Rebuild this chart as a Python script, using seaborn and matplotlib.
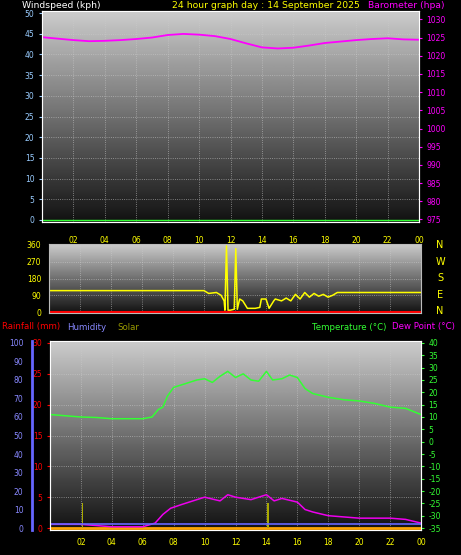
import numpy as np
import seaborn as sns
import matplotlib.pyplot as plt

sns.set_style("dark")
plt.rcParams['font.family'] = ['DejaVu Sans']
plt.rcParams['axes.unicode_minus'] = False

# barometer (hPa)
baro_h = [0, 1, 2, 3, 4, 5, 6, 7, 8, 9, 10, 11, 12, 13, 14, 15, 16, 17, 18, 19, 20, 21, 22, 23, 24]
baro_v = [1025.1, 1024.7, 1024.3, 1024.0, 1024.1, 1024.3, 1024.6, 1025.0, 1025.7, 1026.0, 1025.8, 1025.4,
          1024.6, 1023.4, 1022.3, 1022.0, 1022.2, 1022.8, 1023.5, 1023.9, 1024.3, 1024.6, 1024.8, 1024.5, 1024.4]

# wind direction (deg)
dir_h = [0, 10.0, 10.3, 10.8, 11.1, 11.3, 11.35, 11.45, 11.55, 11.7, 11.95, 12.05, 12.15, 12.3, 12.5,
         12.8, 13.3, 13.6, 13.7, 14.0, 14.2, 14.5, 14.6, 15.0, 15.3, 15.6, 15.9, 16.2, 16.5, 16.8, 17.1,
         17.4, 17.7, 18.0, 18.3, 18.6, 24]
dir_v = [115, 115, 100, 105, 90, 60, 10, 355, 10, 10, 15, 340, 15, 70, 60, 20, 20, 25, 70, 70, 20, 60,
         70, 60, 75, 60, 95, 70, 105, 80, 100, 85, 95, 80, 90, 105, 105]

# temperature and dew point (C)
temp_h = [0, 1, 2, 3, 4, 5, 6, 6.6, 7.0, 7.3, 7.6, 8.0, 8.5, 9.0, 9.5, 10.0, 10.5, 11.0, 11.5, 12.0,
          12.5, 13.0, 13.5, 14.0, 14.4, 15.0, 15.5, 16.0, 16.5, 17.0, 18.0, 19.0, 20.0, 21.0, 22.0, 23.0, 24.0]
temp_v = [11.0, 10.5, 10.0, 9.8, 9.3, 9.3, 9.3, 10.0, 13.0, 14.0, 18.5, 22.0, 23.0, 24.0, 25.0, 25.5,
          24.0, 26.5, 28.5, 26.0, 27.5, 25.0, 24.5, 28.5, 25.0, 25.5, 27.0, 26.0, 21.5, 19.5, 18.0, 17.0,
          16.5, 15.5, 14.0, 13.5, 11.0]
dew_h = [0, 2, 4, 6, 6.8, 7.3, 7.8, 8.5, 9.0, 10.0, 11.0, 11.5, 12.0, 13.0, 14.0, 14.5, 15.0, 16.0,
         16.5, 17.0, 18.0, 20.0, 22.0, 23.0, 24.0]
dew_v = [-33.5, -33.5, -34.5, -34.5, -33.0, -29.5, -27.0, -25.5, -24.5, -22.5, -24.0, -21.5, -22.5,
         -23.5, -21.5, -24.0, -23.0, -24.5, -27.5, -28.5, -30.0, -31.0, -31.0, -31.5, -33.0]
hum_v = [3, 3]
solar_h = [2.1, 14.1]
solar_v = [4, 4]  # spike heights (rain axis)

hours = [2, 4, 6, 8, 10, 12, 14, 16, 18, 20, 22, 24]
hour_labels = ["02", "04", "06", "08", "10", "12", "14", "16", "18", "20", "22", "00"]

W, H = 461, 555
fig = plt.figure(figsize=(W / 100, H / 100), dpi=100, facecolor="black")

grad = np.linspace(0.8, 0.07, 200).reshape(-1, 1)


def panel(l, t, r, b):
    ax = fig.add_axes([l / W, 1 - b / H, (r - l) / W, (b - t) / H])
    ax.imshow(grad, cmap="gray", vmin=0, vmax=1, aspect="auto", extent=[0, 1, 0, 1],
              transform=ax.transAxes, zorder=0)
    ax.set_xlim(0, 24)
    for s in ax.spines.values():
        s.set_color("#bbbbbb")
    ax.set_xticks(hours)
    ax.grid(True, color="#cccccc", ls=":", lw=0.6, alpha=0.7)
    ax.tick_params(colors="yellow", labelsize=5.5, length=2)
    return ax


fs = 6.2
# top panel
ax1 = panel(42, 11, 419, 222)
ax1.set_ylim(-0.5, 50.5)
ax1.set_yticks(range(0, 51, 5))
ax1.tick_params(axis="y", colors="#99ccff")
ax1.set_xticklabels(hour_labels)
ax1.axhline(0, color="#33ff33", lw=1)
ax1b = ax1.twinx()
ax1b.set_ylim(974.3, 1032.3)
ax1b.set_yticks(range(975, 1031, 5))
ax1b.tick_params(colors="magenta", labelsize=5.5, length=2)
sns.lineplot(x=baro_h, y=baro_v, ax=ax1b, color="magenta", lw=1.3)
ax1.tick_params(axis="x", pad=8)
fig.text(22 / W, 1 - 6 / H, "Windspeed (kph)", color="white", fontsize=fs + 0.5, va="center")
fig.text(172 / W, 1 - 6 / H, "24 hour graph day : 14 September 2025", color="yellow", fontsize=fs + 0.5, va="center")
fig.text(368 / W, 1 - 6 / H, "Barometer (hpa)", color="magenta", fontsize=fs + 0.5, va="center")

# middle panel
ax2 = panel(49, 244, 421, 313)
ax2.set_ylim(-5, 365)
ax2.set_yticks([0, 90, 180, 270, 360])
ax2.set_xticklabels([])
ax2.tick_params(axis="x", length=0)
sns.lineplot(x=dir_h, y=dir_v, ax=ax2, color="yellow", lw=1.1, sort=False)
ax2.axhline(0, color="red", lw=1.5)
for i, c in enumerate("NWSEN"):
    fig.text(440 / W, 1 - (245 + i * 16.5) / H, c, color="yellow", fontsize=7, va="center", ha="center")

# bottom panel
fig.text(2 / W, 1 - 327 / H, "Rainfall (mm)", color="red", fontsize=fs, va="center")
fig.text(67 / W, 1 - 327 / H, "Humidity", color="#8888ff", fontsize=fs, va="center")
fig.text(117 / W, 1 - 327 / H, "Solar", color="#999900", fontsize=fs, va="center")
fig.text(312 / W, 1 - 327 / H, "Temperature (\u00b0C)", color="#33ff33", fontsize=fs, va="center")
fig.text(392 / W, 1 - 327 / H, "Dew Point (\u00b0C)", color="magenta", fontsize=fs, va="center")

ax3 = panel(50, 341, 421, 530)
ax3.set_ylim(-0.3, 30.3)
ax3.set_yticks(range(0, 31, 5))
ax3.tick_params(axis="y", colors="red")
ax3.set_xticklabels(hour_labels)
ax3.plot([0, 24], [0, 0], color="orange", lw=2, zorder=3)
ax3.bar(solar_h, solar_v, width=0.1, color="#aaaa00", edgecolor="none", zorder=3)
ax3t = ax3.twinx()
ax3t.set_ylim(-35.8, 40.8)
ax3t.set_yticks(range(-35, 41, 5))
ax3t.tick_params(colors="#33ff33", labelsize=5.5, length=2)
sns.lineplot(x=temp_h, y=temp_v, ax=ax3t, color="#33ff33", lw=1.1)
sns.lineplot(x=dew_h, y=dew_v, ax=ax3t, color="#ee00ee", lw=1.1)
# humidity axis
axh = fig.add_axes([31 / W, 1 - 530 / H, 1 / W, 189 / H])
axh.set_facecolor("black")
axh.set_ylim(-1, 101)
axh.set_yticks(range(0, 101, 10))
axh.set_xticks([])
for s in axh.spines.values():
    s.set_visible(False)
axh.spines["right"].set_visible(True)
axh.spines["right"].set_color("#6666ff")
axh.spines["right"].set_linewidth(2)
axh.tick_params(colors="#8888ff", labelsize=5.5, length=2)
ax3t.plot([0, 24], [-35.8 + 76.6 * h / 100 for h in hum_v], color="#6666ff", lw=1.2)

fig.savefig("out.png", dpi=100, facecolor="black")
